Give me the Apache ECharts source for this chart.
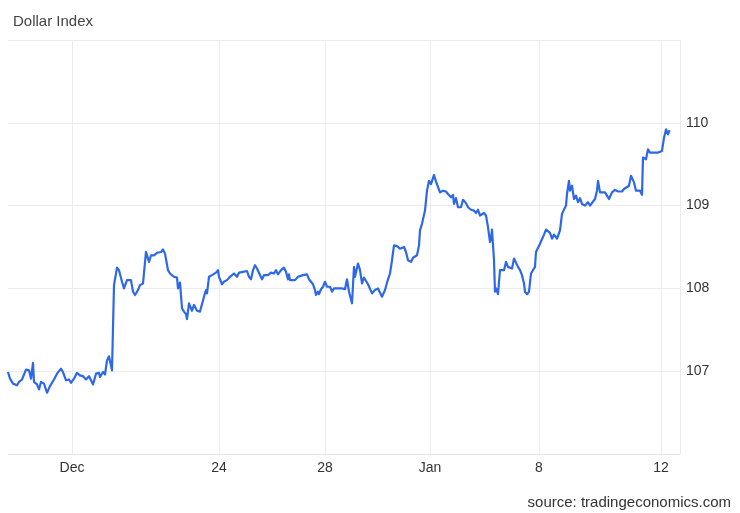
<!DOCTYPE html>
<html>
<head>
<meta charset="utf-8">
<script src="https://cdn.jsdelivr.net/npm/echarts@6/dist/echarts.min.js"></script>
<style>
html,body{margin:0;padding:0;background:#fff;}
#chart{width:740px;height:513px;}
</style>
</head>
<body>
<div id="chart"></div>
<script>
// sample position (intraday stream index) and Dollar Index value
const times = [0,2,5,7,9,11,14,16,18,21,23,25,26,29,31,33,36,39,42,46,49,53,55,58,61,63,66,69,72,75,78,81,83,85,88,91,92,95,97,99,101,104,106,109,111,114,116,119,121,123,125,127,130,132,135,138,141,143,146,149,151,153,155,157,160,162,164,166,169,170,172,174,176,178,179,181,183,184,186,189,192,194,196,198,199,201,204,206,208,210,211,212,214,216,219,222,224,226,229,231,233,235,237,239,241,243,245,247,249,251,254,256,258,260,263,266,268,270,273,276,278,280,281,282,284,287,290,292,295,297,299,301,303,305,307,308,310,311,313,315,317,319,322,324,326,330,334,337,339,341,344,346,347,350,352,354,356,358,360,362,364,367,370,372,374,377,380,382,384,386,389,392,394,396,398,400,403,405,407,409,411,412,414,415,417,419,421,423,426,428,430,432,435,438,440,443,445,446,448,450,453,455,458,460,463,466,468,470,472,474,476,478,480,482,483,484,486,487,488,490,492,494,496,498,500,502,504,506,508,510,512,514,516,517,519,521,523,525,527,528,530,532,534,536,538,540,542,544,546,549,551,552,554,556,558,559,561,562,564,566,568,570,572,574,577,580,582,584,587,589,590,592,594,597,599,601,604,607,610,612,614,616,618,621,623,624,626,628,630,632,634,635,636,638,640,642,644,647,650,652,654,656,658,660,661,662];
const values = [106.99,106.91,106.85,106.87,106.83,106.87,106.90,106.90,107.02,107.01,106.91,107.10,106.87,106.84,106.78,106.87,106.85,106.74,106.82,106.90,106.97,107.03,106.99,106.89,106.90,106.86,106.91,106.98,106.95,106.94,106.90,106.94,106.89,106.84,106.97,106.98,106.93,106.99,106.96,107.13,107.18,107.01,108.04,108.25,108.22,108.08,108.00,108.10,108.08,108.10,107.96,107.92,107.98,108.04,108.06,108.44,108.32,108.40,108.40,108.43,108.41,108.44,108.47,108.42,108.22,108.18,108.20,108.14,108.13,108.00,108.07,107.76,107.72,107.69,107.63,107.82,107.82,107.73,107.80,107.73,107.72,107.74,107.90,107.98,107.94,108.14,108.16,108.17,108.19,108.22,108.14,108.12,108.05,108.08,108.10,108.14,108.13,108.18,108.14,108.19,108.17,108.20,108.19,108.21,108.14,108.11,108.22,108.28,108.24,108.22,108.11,108.16,108.17,108.16,108.19,108.18,108.22,108.17,108.22,108.25,108.20,108.11,108.17,108.10,108.11,108.10,108.14,108.15,108.16,108.14,108.17,108.11,108.13,108.05,107.98,107.92,107.96,107.93,107.99,108.02,108.08,108.02,108.02,107.96,108.00,108.00,108.00,107.99,108.11,107.96,107.82,108.26,108.14,108.30,108.22,108.06,108.13,108.09,108.05,108.06,107.94,107.98,108.00,108.01,107.90,107.98,108.11,108.18,108.34,108.52,108.51,108.48,108.46,108.50,108.44,108.34,108.32,108.37,108.35,108.40,108.52,108.70,108.78,108.79,108.94,109.18,109.30,109.26,109.37,109.29,109.28,109.16,109.18,109.17,109.14,109.10,109.13,109.02,109.09,108.98,108.98,109.07,109.03,108.98,108.95,108.94,108.91,108.95,108.88,108.86,108.91,108.88,108.74,108.56,108.60,108.71,108.34,107.96,108.00,107.93,108.22,108.24,108.22,108.32,108.26,108.24,108.24,108.36,108.36,108.26,108.22,108.16,108.06,107.96,107.93,107.96,108.18,108.20,108.26,108.44,108.45,108.54,108.56,108.65,108.71,108.70,108.67,108.60,108.65,108.60,108.60,108.70,108.90,108.92,109.00,109.14,109.30,109.18,109.24,109.08,109.12,109.04,109.09,109.02,109.00,109.04,109.00,109.02,109.08,109.18,109.30,109.16,109.14,109.16,109.12,109.08,109.16,109.19,109.17,109.18,109.17,109.20,109.18,109.24,109.36,109.38,109.28,109.18,109.17,109.18,109.13,109.58,109.60,109.56,109.68,109.64,109.66,109.64,109.64,109.66,109.66,109.82,109.92,109.86,109.90,109.89];
const xTickValues = [64, 211, 317, 422, 531, 653];
const xTickLabels = ['Dec', '24', '28', 'Jan', '8', '12'];
const xMax = 672;
const yTicks = [107, 108, 109, 110];

const chart = echarts.init(document.getElementById('chart'), null, {renderer: 'canvas'});
const seriesData = times.map((t, i) => [t, values[i]]);
const font = '"Liberation Sans", Arial, Helvetica, sans-serif';

chart.setOption({
  animation: false,
  backgroundColor: '#ffffff',
  textStyle: {fontFamily: font},
  title: [
    {text: 'Dollar Index', left: 8, top: 9,
     textStyle: {fontSize: 15, fontWeight: 'normal', color: '#444', fontFamily: font}},
    {text: 'source: tradingeconomics.com', right: 4, top: 490,
     textStyle: {fontSize: 15, fontWeight: 'normal', color: '#333', fontFamily: font}}
  ],
  grid: {left: 8, right: 60, top: 40, bottom: 59, containLabel: false},
  xAxis: {
    type: 'value', min: 0, max: xMax,
    axisLine: {show: true, lineStyle: {color: '#e3e3e3', width: 1}},
    axisTick: {show: false, customValues: xTickValues.concat([xMax])},
    splitLine: {show: true, lineStyle: {color: '#ececec', width: 1}},
    axisLabel: {
      customValues: xTickValues,
      margin: 7, fontSize: 14, color: '#333', fontFamily: font,
      formatter: v => { const k = xTickValues.indexOf(v); return k >= 0 ? xTickLabels[k] : ''; }
    }
  },
  yAxis: {
    type: 'value', position: 'right', min: 106, max: 111, interval: 1,
    axisLine: {show: false}, axisTick: {show: false},
    splitLine: {show: true, lineStyle: {color: '#ececec', width: 1}},
    axisLabel: {
      margin: 6, fontSize: 14, color: '#333', fontFamily: font,
      formatter: v => yTicks.indexOf(v) >= 0 ? String(v) : ''
    }
  },
  series: [{
    type: 'line', data: seriesData, showSymbol: false, symbol: 'none',
    lineStyle: {color: '#2d68e8', width: 2.2, join: 'round'}, smooth: false
  }]
});
</script>
</body>
</html>
